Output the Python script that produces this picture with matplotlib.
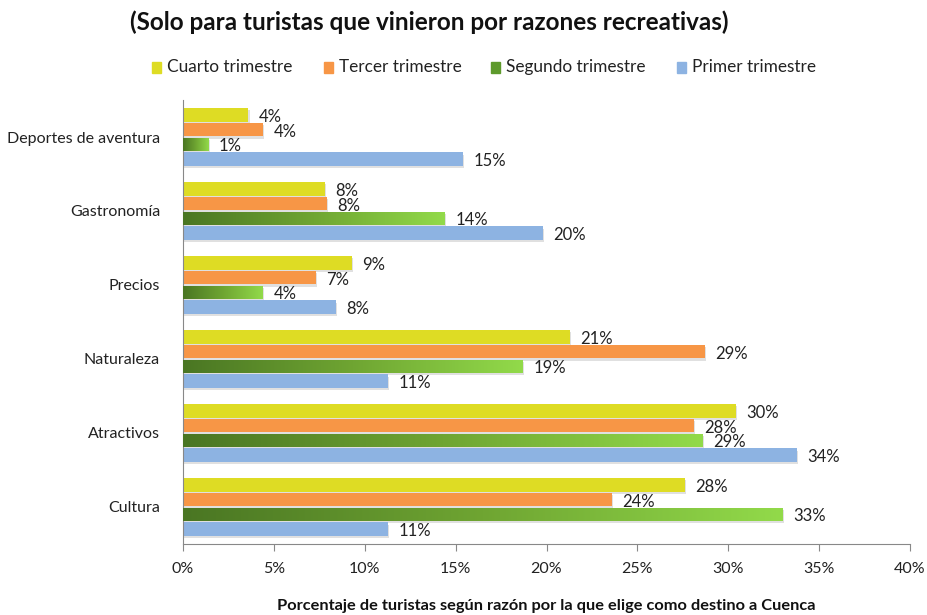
import numpy as np
import matplotlib
matplotlib.use("Agg")
import matplotlib.pyplot as plt
from matplotlib import patheffects as pe
from matplotlib.colors import LinearSegmentedColormap

categorias = ["Deportes de aventura", "Gastronomía", "Precios", "Naturaleza", "Atractivos", "Cultura"]
series = ["Cuarto trimestre", "Tercer trimestre", "Segundo trimestre", "Primer trimestre"]
cuarto = [3.6, 7.8, 9.3, 21.3, 30.4, 27.6]
tercer = [4.4, 7.9, 7.3, 28.7, 28.1, 23.6]
segundo = [1.4, 14.4, 4.4, 18.7, 28.6, 33.0]
primer = [15.4, 19.8, 8.4, 11.3, 33.8, 11.3]
xticks = [0, 5, 10, 15, 20, 25, 30, 35, 40]

valores = [cuarto, tercer, segundo, primer]
colores = ["#DEDC24", "#F79646", None, "#8DB3E2"]
verde = LinearSegmentedColormap.from_list("verde", ["#4A7623", "#6FA532", "#92DA4A"])

plt.rcParams["font.family"] = ["Lato", "DejaVu Sans"]
fig = plt.figure(figsize=(9.28, 6.15), dpi=100)
ax = fig.add_axes([183 / 928, 1 - 544 / 615, 727 / 928, 444 / 615])

h = 0.185
step = 0.2
shadow = [pe.SimplePatchShadow(offset=(0.8, -1.6), shadow_rgbFace="#9a9a9a", alpha=0.3), pe.Normal()]
grad = np.linspace(0, 1, 256).reshape(1, -1)

for s, (vals, col) in enumerate(zip(valores, colores)):
    for i, v in enumerate(vals):
        y = i + (s - 1.5) * step
        if col is None:
            b = ax.barh(y, v, height=h, color="#6FA532", zorder=2)
            b[0].set_path_effects(shadow)
            im = ax.imshow(grad, cmap=verde, aspect="auto", zorder=3,
                           extent=(0, v, y + h / 2, y - h / 2), interpolation="bilinear")
            im.set_clip_path(b[0])
        else:
            b = ax.barh(y, v, height=h, color=col, zorder=2)
            b[0].set_path_effects(shadow)
        ax.annotate(f"{v:.0f}%", (v, y), xytext=(7.5, -1.5), textcoords="offset points",
                    ha="left", va="center", fontsize=12, color="#222222")

ax.set_xlim(0, 40)
ax.set_ylim(5.5, -0.5)
ax.set_xticks(xticks)
ax.set_xticklabels([f"{t}%" for t in xticks], fontsize=11.5, color="#222222")
ax.set_yticks(range(len(categorias)))
ax.set_yticklabels(categorias, fontsize=11.5, color="#222222")
ax.tick_params(axis="y", length=0, pad=16.5)
ax.tick_params(axis="x", length=5, color="#888888", direction="out", pad=8)
for sp in ["top", "right"]:
    ax.spines[sp].set_visible(False)
for sp in ["left", "bottom"]:
    ax.spines[sp].set_color("#888888")

fig.text(546 / 928, 1 - 606 / 615,
         "Porcentaje de turistas según razón por la que elige como destino a Cuenca",
         ha="center", va="center", fontsize=11.8, fontweight="bold", color="#111111")

fig.text(429 / 928, 1 - 22 / 615, "(Solo para turistas que vinieron por razones recreativas)",
         ha="center", va="center", fontsize=17.5, fontweight="bold", color="#111111")

# legend
leg_x = [152, 324, 491, 677]
leg_col = ["#DEDC24", "#F79646", "#5E9A2C", "#8DB3E2"]
for x, c, name in zip(leg_x, leg_col, series):
    fig.patches.append(plt.Rectangle((x / 928, 1 - 73 / 615), 9 / 928, 11 / 615,
                                     transform=fig.transFigure, color=c))
    fig.text((x + 15) / 928, 1 - 67 / 615, name, ha="left", va="center",
             fontsize=12.4, color="#222222")

fig.savefig("out.png", dpi=100)
